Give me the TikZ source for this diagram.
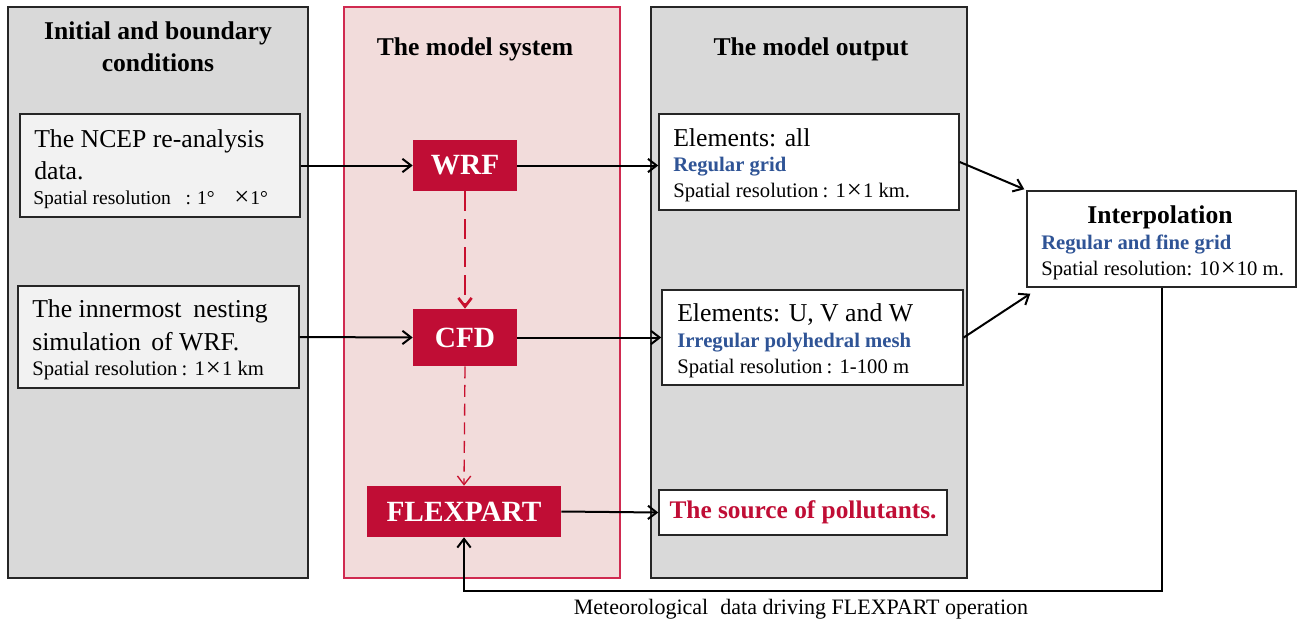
\documentclass[tikz,border=0pt]{standalone}
\usepackage{fontspec}
\setmainfont{Liberation Serif}
\usetikzlibrary{arrows.meta}

\definecolor{panelgray}{HTML}{D9D9D9}
\definecolor{boxgray}{HTML}{F2F2F2}
\definecolor{modelpink}{HTML}{F2DCDB}
\definecolor{modeledge}{HTML}{D02A50}
\definecolor{crimson}{HTML}{C00D35}
\definecolor{dashred}{HTML}{C8102E}
\definecolor{gridblue}{HTML}{2F5496}

% a wide multiplication sign for the resolutions
\newcommand{\resx}{{\fontsize{20}{20}\selectfont\raisebox{-0.8pt}{×}}}

\begin{document}
\begin{tikzpicture}[x=0.75pt,y=-0.75pt,
  panel/.style={rectangle, draw=black!85, line width=1.1pt, fill=panelgray, inner sep=0},
  infobox/.style={rectangle, draw=black!85, line width=1.1pt, fill=white, inner sep=0},
  modelbox/.style={rectangle, fill=crimson, text=white, inner sep=0,
    font=\fontsize{22}{26}\selectfont\bfseries},
  txt/.style={inner sep=0, anchor=base west},
  ctxt/.style={inner sep=0, anchor=base},
  bigfont/.style={font=\fontsize{19.3}{23}\selectfont},
  smallfont/.style={font=\fontsize{14.7}{17}\selectfont},
  resfont/.style={font=\fontsize{15.5}{18}\selectfont},
  headfont/.style={font=\fontsize{19.2}{22}\selectfont\bfseries},
  bluefont/.style={font=\fontsize{15.5}{18}\selectfont\bfseries, text=gridblue},
  flow/.style={-{Straight Barb[length=6.5pt,width=10pt]}, line width=1.5pt, draw=black},
  drivenA/.style={-{Straight Barb[length=6.5pt,width=10pt]}, draw=dashred, line width=2pt,
    dash pattern=on 15pt off 6pt},
  drivenB/.style={-{Straight Barb[length=6.5pt,width=10pt]}, draw=dashred, line width=1pt,
    dash pattern=on 9pt off 5pt}]
\useasboundingbox (0,0) rectangle (1300,628);

% three columns
\node[panel, minimum width=225pt, minimum height=428.25pt] (init) at (158,292.5) {};
\node[panel, fill=modelpink, draw=modeledge, minimum width=207pt, minimum height=428.25pt] (model) at (482,292.5) {};
\node[panel, minimum width=237pt, minimum height=428.25pt] (output) at (809,292.5) {};

% column headings
\node[ctxt, headfont] (initA) at (158,39) {Initial and boundary};
\node[ctxt, headfont] (initB) at (158,71) {conditions};
\node[ctxt, headfont] (modelT) at (475,55) {The model system};
\node[ctxt, headfont] (outT) at (811,55) {The model output};

% input data
\node[infobox, fill=boxgray, minimum width=210pt, minimum height=77.25pt] (ncep) at (160,165.5) {};
\node[txt, bigfont] (ncepA) at (34,147) {The NCEP re-analysis};
\node[txt, bigfont] (ncepB) at (34,179.5) {data.};
\node[txt, smallfont] (ncepC) at (33,204) {Spatial resolution\hspace{0.75em}:\hspace{0.3em}1°\hspace{1em}\resx\hspace{0.05em}1°};

\node[infobox, fill=boxgray, minimum width=210.75pt, minimum height=76.5pt] (inner) at (158.5,337) {};
\node[txt, bigfont] (innerA) at (32,317) {The innermost\hspace{4pt} nesting};
\node[txt, bigfont] (innerB) at (32,350) {simulation\hspace{3pt} of WRF.};
\node[txt, resfont] (innerC) at (32,375) {Spatial resolution\hspace{0.2em}:\hspace{0.35em}1\hspace{0.05em}\resx\hspace{0.05em}1 km};

% models
\node[modelbox, minimum width=78pt, minimum height=38.25pt] (wrf) at (465,165.5) {WRF};
\node[modelbox, minimum width=78pt, minimum height=42.75pt] (cfd) at (465,337.5) {CFD};
\node[modelbox, minimum width=145.5pt, minimum height=38.25pt] (flex) at (464,511.5) {FLEXPART};

% outputs
\node[infobox, minimum width=225pt, minimum height=72pt] (out1) at (809,162) {};
\node[txt, bigfont] (out1A) at (673,146) {Elements: all};
\node[txt, bluefont] (out1B) at (673,171.5) {Regular grid};
\node[txt, resfont] (out1C) at (673,197) {Spatial resolution\hspace{0.2em}:\hspace{0.35em}1\hspace{0.05em}\resx\hspace{0.05em}1 km.};

\node[infobox, minimum width=225.75pt, minimum height=71.25pt] (out2) at (812.5,337.5) {};
\node[txt, bigfont] (out2A) at (677,321) {Elements: U, V and W};
\node[txt, bluefont] (out2B) at (677,347) {Irregular polyhedral mesh};
\node[txt, resfont] (out2C) at (677,373) {Spatial resolution\hspace{0.2em}:\hspace{0.35em}1-100 m};

\node[infobox, minimum width=216pt, minimum height=33.75pt, text=crimson,
  font=\fontsize{19}{23}\selectfont\bfseries] (source) at (803,512.5) {The source of pollutants.};

% interpolation
\node[infobox, minimum width=201.75pt, minimum height=72pt] (interp) at (1161.5,239) {};
\node[ctxt, font=\fontsize{19.2}{23}\selectfont\bfseries] (interpA) at (1160,223) {Interpolation};
\node[txt, bluefont] (interpB) at (1041,249) {Regular and fine grid};
\node[txt, resfont] (interpC) at (1041,275) {Spatial resolution: 10\hspace{0.05em}\resx\hspace{0.05em}10 m.};

% connectors
\draw[flow] (ncep.east) -- (wrf.west);
\draw[flow] (inner.east) -- (cfd.west);
\draw[flow] (wrf.east) -- (wrf.east -| out1.west);
\draw[flow] (cfd.east) -- (out2.west);
\draw[flow] (flex.east) -- (source.west);
\draw[flow] (out1.east) -- ([shift={(-2,-1)}]interp.north west);
\draw[flow] (out2.east) -- ([shift={(4,6)}]interp.south west);
\draw[drivenA] (wrf.south) -- (cfd.north);
\draw[drivenB] (cfd.south) -- (flex.north);
\draw[flow] (interp.south) -- ++(0,303) -| (flex.south);

\node[font=\fontsize{16.5}{19}\selectfont] (feedlabel) at (801,609) {Meteorological\hspace{5pt} data driving FLEXPART operation};
\end{tikzpicture}
\end{document}
